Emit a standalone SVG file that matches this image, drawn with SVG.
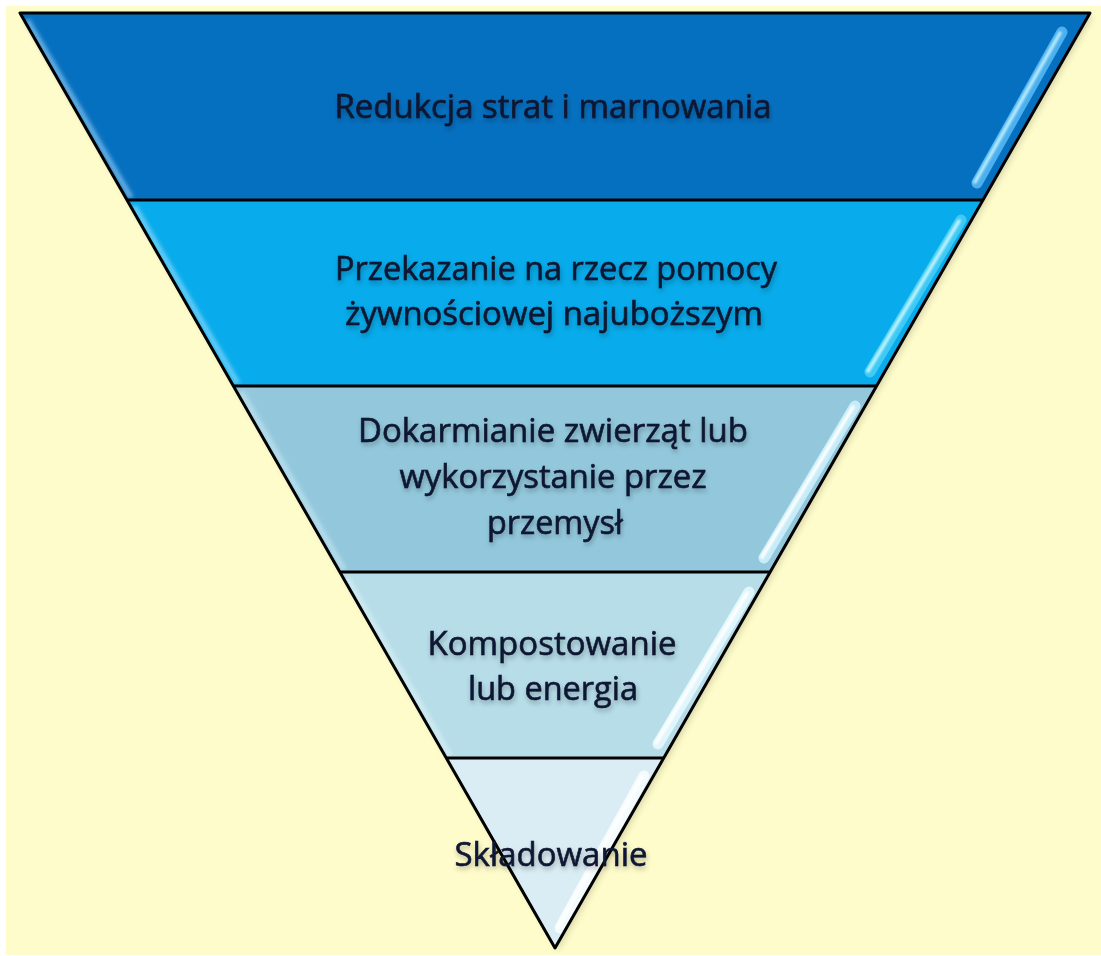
<svg xmlns="http://www.w3.org/2000/svg" width="1101" height="956" viewBox="0 0 1101 956">
  <defs>
    <style>
      .lbl { font-family: "Open Sans", "Noto Sans", "Liberation Sans", sans-serif; font-size: 32px; fill: #0b1630; stroke: #0b1630; stroke-width: 0.6; text-anchor: middle; filter: url(#tshadow); }
      .edge { fill: none; stroke: #000; stroke-width: 3; stroke-linejoin: round; }
      .streak { stroke-linecap: round; fill: none; }
    </style>
    <filter id="tshadow" x="-10%" y="-30%" width="120%" height="170%">
      <feDropShadow dx="1" dy="3" stdDeviation="2.5" flood-color="#000" flood-opacity="0.28"/>
    </filter>
    <filter id="blur2" x="-10%" y="-10%" width="120%" height="120%">
      <feGaussianBlur stdDeviation="2"/>
    </filter>
    <filter id="blur1" x="-10%" y="-10%" width="120%" height="120%">
      <feGaussianBlur stdDeviation="1"/>
    </filter>
    <filter id="shadow" x="-5%" y="-5%" width="110%" height="110%">
      <feDropShadow dx="3" dy="3" stdDeviation="3" flood-color="#000" flood-opacity="0.25"/>
    </filter>
  </defs>

  <rect x="0" y="0" width="1101" height="956" fill="#ffffff"/>
  <rect x="6" y="6" width="1095" height="949" fill="#fffccb"/>

  <polygon points="20,13 1090,13 555,948" fill="#000" filter="url(#shadow)" opacity="0.6"/>

  <g id="band1">
    <polygon points="20,13 1090,13 983,200 127,200" fill="#0670c0"/>
    <line x1="28" y1="18" x2="1080" y2="18" stroke="#7fc0ee" stroke-width="4" filter="url(#blur2)" opacity="0.8"/>
    <line x1="27" y1="20" x2="131" y2="198" stroke="#8cc8f0" stroke-width="5" filter="url(#blur2)" opacity="0.8"/>
    <line x1="130" y1="195" x2="980" y2="195" stroke="#04508c" stroke-width="5" filter="url(#blur1)"/>
    <line class="streak" x1="1062" y1="32" x2="977" y2="183" stroke="#4cb0ee" stroke-width="11"/>
    <line class="streak" x1="1060" y1="33" x2="975" y2="182" stroke="#b8ecff" stroke-width="3.5" filter="url(#blur1)"/>
    <text class="lbl" x="553" y="118" textLength="437" lengthAdjust="spacingAndGlyphs">Redukcja strat i marnowania</text>
  </g>

  <g id="band2">
    <polygon points="127,200 983,200 876.6,386 233.4,386" fill="#08abeb"/>
    <line x1="132" y1="205" x2="978" y2="205" stroke="#8adcff" stroke-width="4" filter="url(#blur2)" opacity="0.8"/>
    <line x1="134" y1="206" x2="238" y2="384" stroke="#9ee0ff" stroke-width="5" filter="url(#blur2)" opacity="0.7"/>
    <line x1="236" y1="381" x2="874" y2="381" stroke="#067fb0" stroke-width="4" filter="url(#blur1)"/>
    <line class="streak" x1="961" y1="220" x2="870" y2="372" stroke="#3fcaf5" stroke-width="11"/>
    <line class="streak" x1="959" y1="221" x2="868" y2="371" stroke="#bff4ff" stroke-width="3.5" filter="url(#blur1)"/>
    <text class="lbl" x="556" y="280" textLength="442" lengthAdjust="spacingAndGlyphs">Przekazanie na rzecz pomocy</text>
    <text class="lbl" x="554" y="325" textLength="418" lengthAdjust="spacingAndGlyphs">żywnościowej najuboższym</text>
  </g>

  <g id="band3">
    <polygon points="233.4,386 876.6,386 770.1,572 339.9,572" fill="#93c8dc"/>
    <line x1="238" y1="391" x2="872" y2="391" stroke="#d4eef8" stroke-width="4" filter="url(#blur2)" opacity="0.8"/>
    <line x1="241" y1="392" x2="344" y2="570" stroke="#d4eef8" stroke-width="5" filter="url(#blur2)" opacity="0.6"/>
    <line x1="342" y1="567" x2="768" y2="567" stroke="#6e9fb2" stroke-width="4" filter="url(#blur1)"/>
    <line class="streak" x1="855" y1="406" x2="764" y2="558" stroke="#c6ecf8" stroke-width="11"/>
    <line class="streak" x1="853" y1="407" x2="762" y2="557" stroke="#ffffff" stroke-width="3.5" filter="url(#blur1)"/>
    <text class="lbl" x="553" y="442" textLength="390" lengthAdjust="spacingAndGlyphs">Dokarmianie zwierząt lub</text>
    <text class="lbl" x="553" y="488" textLength="307" lengthAdjust="spacingAndGlyphs">wykorzystanie przez</text>
    <text class="lbl" x="555" y="534" textLength="136" lengthAdjust="spacingAndGlyphs">przemysł</text>
  </g>

  <g id="band4">
    <polygon points="339.9,572 770.1,572 663.7,758 446.3,758" fill="#b6dde8"/>
    <line x1="344" y1="577" x2="766" y2="577" stroke="#e4f5fa" stroke-width="4" filter="url(#blur2)" opacity="0.8"/>
    <line x1="347" y1="578" x2="450" y2="756" stroke="#e4f5fa" stroke-width="5" filter="url(#blur2)" opacity="0.6"/>
    <line x1="449" y1="753" x2="661" y2="753" stroke="#8cb3bf" stroke-width="4" filter="url(#blur1)"/>
    <line class="streak" x1="749" y1="592" x2="658" y2="744" stroke="#e0f6fc" stroke-width="11"/>
    <line class="streak" x1="747" y1="593" x2="656" y2="743" stroke="#ffffff" stroke-width="3.5" filter="url(#blur1)"/>
    <text class="lbl" x="552" y="655" textLength="249" lengthAdjust="spacingAndGlyphs">Kompostowanie</text>
    <text class="lbl" x="553" y="700" textLength="170" lengthAdjust="spacingAndGlyphs">lub energia</text>
  </g>

  <g id="band5">
    <polygon points="446.3,758 663.7,758 555,948" fill="#daedf4"/>
    <line x1="451" y1="763" x2="659" y2="763" stroke="#f4fbfd" stroke-width="4" filter="url(#blur2)" opacity="0.8"/>
    <line class="streak" x1="644" y1="776" x2="560" y2="928" stroke="#f4fbfd" stroke-width="11"/>
    <line class="streak" x1="642" y1="777" x2="558" y2="927" stroke="#ffffff" stroke-width="3.5" filter="url(#blur1)"/>
  </g>

  <g id="outline">
    <polygon class="edge" points="20,13 1090,13 555,948"/>
    <line class="edge" x1="127" y1="200" x2="983" y2="200"/>
    <line class="edge" x1="233.4" y1="386" x2="876.6" y2="386"/>
    <line class="edge" x1="339.9" y1="572" x2="770.1" y2="572"/>
    <line class="edge" x1="446.3" y1="758" x2="663.7" y2="758"/>
  </g>

  <text class="lbl" x="551" y="866" textLength="193" lengthAdjust="spacingAndGlyphs">Składowanie</text>
</svg>
